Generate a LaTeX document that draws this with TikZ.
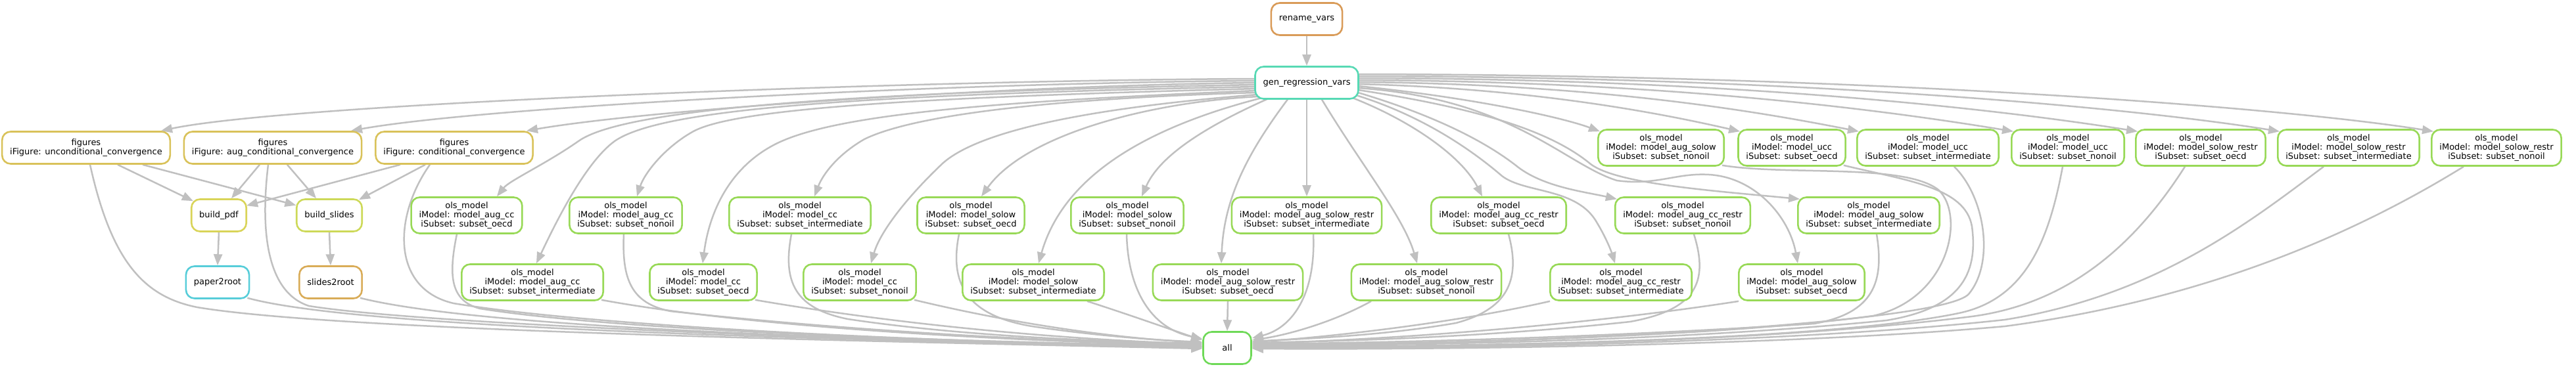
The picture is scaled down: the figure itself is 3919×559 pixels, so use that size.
\documentclass[tikz,border=0pt]{standalone}
\usepackage{fontspec}
\setmainfont{DejaVu Sans}
\usetikzlibrary{arrows.meta,calc}
\definecolor{cRename}{RGB}{217,155,88}
\definecolor{cGen}{RGB}{87,217,180}
\definecolor{cFig}{RGB}{217,194,90}
\definecolor{cPdf}{RGB}{217,212,88}
\definecolor{cSlides}{RGB}{205,217,88}
\definecolor{cPaper}{RGB}{87,205,217}
\definecolor{cStoR}{RGB}{217,172,88}
\definecolor{cOls}{RGB}{152,217,87}
\definecolor{cAll}{RGB}{110,217,87}
\definecolor{cEdge}{RGB}{192,192,192}
\pgfdeclarelayer{background}
\pgfsetlayers{background,main}
\newcommand\olst[2]{ols\_model\\iModel: model\_#1\\iSubset: subset\_#2}
\begin{document}
\begin{tikzpicture}[x=1pt,y=-1pt,
  box/.style={draw, line width=2.6pt, rounded corners=13pt, fill=white, align=center, text=black,
    font=\fontsize{13pt}{14.2pt}\selectfont, inner xsep=12pt, inner ysep=5pt,
    minimum height=49pt, minimum width=73pt},
  olsbox/.style={box, draw=cOls, minimum height=55pt},
  arr/.style={draw=cEdge, line width=2.5pt, -{Triangle[length=17pt,width=13pt]}}]
\useasboundingbox (0,0) rectangle (3919,559);
% ---------- nodes ----------
\node[box,draw=cRename] (rename) at (1988,29) {rename\_vars};
\node[box,draw=cGen] (gen) at (1988,126) {gen\_regression\_vars};
\node[box,draw=cFig] (figU) at (131,225) {figures\\iFigure: unconditional\_convergence};
\node[box,draw=cFig] (figA) at (415,225) {figures\\iFigure: aug\_conditional\_convergence};
\node[box,draw=cFig] (figC) at (691,225) {figures\\iFigure: conditional\_convergence};
\node[box,draw=cPdf] (bpdf) at (333,328) {build\_pdf};
\node[box,draw=cSlides] (bsl) at (501,328) {build\_slides};
\node[box,draw=cPaper] (p2r) at (331,430) {paper2root};
\node[box,draw=cStoR] (s2r) at (503,430) {slides2root};
\node[box,draw=cAll] (all) at (1867,530) {all};
% rank 2
\node[olsbox] (asN)  at (2527,225) {\olst{aug\_solow}{nonoil}};
\node[olsbox] (uccO) at (2726,225) {\olst{ucc}{oecd}};
\node[olsbox] (uccI) at (2933,225) {\olst{ucc}{intermediate}};
\node[olsbox] (uccN) at (3146,225) {\olst{ucc}{nonoil}};
\node[olsbox] (srO)  at (3348,225) {\olst{solow\_restr}{oecd}};
\node[olsbox] (srI)  at (3573,225) {\olst{solow\_restr}{intermediate}};
\node[olsbox] (srN)  at (3798,225) {\olst{solow\_restr}{nonoil}};
% rank 3
\node[olsbox] (accO)  at (710,328)  {\olst{aug\_cc}{oecd}};
\node[olsbox] (accN)  at (952,328)  {\olst{aug\_cc}{nonoil}};
\node[olsbox] (ccI)   at (1217,328) {\olst{cc}{intermediate}};
\node[olsbox] (soO)   at (1477,328) {\olst{solow}{oecd}};
\node[olsbox] (soN)   at (1715,328) {\olst{solow}{nonoil}};
\node[olsbox] (asrI)  at (1988,328) {\olst{aug\_solow\_restr}{intermediate}};
\node[olsbox] (accrO) at (2280,328) {\olst{aug\_cc\_restr}{oecd}};
\node[olsbox] (accrN) at (2560,328) {\olst{aug\_cc\_restr}{nonoil}};
\node[olsbox] (asI)   at (2843,328) {\olst{aug\_solow}{intermediate}};
% rank 4
\node[olsbox] (accI)  at (810,430)  {\olst{aug\_cc}{intermediate}};
\node[olsbox] (ccO)   at (1070,430) {\olst{cc}{oecd}};
\node[olsbox] (ccN)   at (1308,430) {\olst{cc}{nonoil}};
\node[olsbox] (soI)   at (1572,430) {\olst{solow}{intermediate}};
\node[olsbox] (asrO)  at (1868,430) {\olst{aug\_solow\_restr}{oecd}};
\node[olsbox] (asrN)  at (2170,430) {\olst{aug\_solow\_restr}{nonoil}};
\node[olsbox] (accrI) at (2466,430) {\olst{aug\_cc\_restr}{intermediate}};
\node[olsbox] (asO)   at (2741,430) {\olst{aug\_solow}{oecd}};
% ---------- edges ----------
\begin{pgfonlayer}{background}
\fill[white] (0,0) rectangle (3919,559);
\draw[arr] (rename.south) -- (gen.north);
% gen -> left
\draw[arr] ($(gen)+(-76,-6)$) .. controls (1400,122) and (445,157) .. ($(figU.north)+(114,0)$);
\draw[arr] ($(gen)+(-76,-3)$) .. controls (1450,126) and (740,162) .. ($(figA.north)+(119,0)$);
\draw[arr] ($(gen)+(-76,0)$) .. controls (1550,130) and (1000,165) .. ($(figC.north)+(110,0)$);
\draw[arr] ($(gen)+(-76,3)$) .. controls (1300,140) and (950,165) .. (880,215) .. controls (830,250) and (775,275) .. ($(accO.north)+(46,0)$);
\draw[arr] ($(gen)+(-76,6)$) .. controls (1250,145) and (1000,170) .. (935,215) .. controls (890,248) and (845,340) .. ($(accI.north)+(6,0)$);
\draw[arr] ($(gen)+(-76,9)$) .. controls (1400,148) and (1120,165) .. (1055,200) .. controls (1010,225) and (980,265) .. ($(accN.north)+(17,0)$);
\draw[arr] ($(gen)+(-76,12)$) .. controls (1500,155) and (1260,175) .. (1175,222) .. controls (1105,260) and (1078,330) .. ($(ccO.north)+(-1,0)$);
\draw[arr] ($(gen)+(-76,15)$) .. controls (1600,150) and (1390,175) .. (1315,212) .. controls (1275,235) and (1252,265) .. ($(ccI.north)+(22,0)$);
\draw[arr] ($(gen)+(-75,18)$) .. controls (1650,165) and (1490,200) .. (1435,248) .. controls (1385,295) and (1340,350) .. ($(ccN.north)+(17,0)$);
\draw[arr] ($(gen)+(-73,21)$) .. controls (1750,155) and (1560,205) .. ($(soO.north)+(16,0)$);
\draw[arr] ($(gen)+(-68,23)$) .. controls (1760,190) and (1620,260) .. ($(soI.north)+(8,0)$);
\draw[arr] ($(gen)+(-58,24)$) .. controls (1840,190) and (1765,235) .. ($(soN.north)+(22,0)$);
\draw[arr] ($(gen)+(-28,24)$) .. controls (1900,230) and (1862,300) .. ($(asrO.north)+(-10,0)$);
\draw[arr] (gen.south) -- (asrI.north);
% gen -> right
\draw[arr] ($(gen)+(22,24)$) .. controls (2070,250) and (2135,330) .. ($(asrN.north)+(-14,0)$);
\draw[arr] ($(gen)+(67,22)$) .. controls (2150,185) and (2225,240) .. ($(accrO.north)+(-25,0)$);
\draw[arr] ($(gen)+(75,19)$) .. controls (2160,175) and (2235,225) .. (2285,268) .. controls (2320,295) and (2400,285) .. (2430,340) .. controls (2445,365) and (2452,385) .. ($(accrI.north)+(-9,0)$);
\draw[arr] ($(gen)+(78,15)$) .. controls (2180,175) and (2260,215) .. (2310,255) .. controls (2350,285) and (2410,292) .. ($(accrN.north west)+(4,4)$);
\draw[arr] ($(gen)+(78,11)$) .. controls (2250,165) and (2360,200) .. (2420,250) .. controls (2460,280) and (2600,290) .. ($(asI.north west)+(4,4)$);
\draw[arr] ($(gen)+(78,8)$) .. controls (2300,150) and (2380,250) .. (2460,275) .. controls (2520,283) and (2550,263) .. (2600,266) .. controls (2670,270) and (2722,330) .. ($(asO.north)+(-6,0)$);
\draw[arr] ($(gen)+(78,5)$) .. controls (2250,150) and (2380,180) .. ($(asN.north west)+(4,4)$);
\draw[arr] ($(gen)+(78,2)$) .. controls (2350,135) and (2550,178) .. ($(uccO.north west)+(4,4)$);
\draw[arr] ($(gen)+(78,-1)$) .. controls (2450,128) and (2700,175) .. ($(uccI.north west)+(4,4)$);
\draw[arr] ($(gen)+(78,-4)$) .. controls (2550,124) and (2880,170) .. ($(uccN.north west)+(4,4)$);
\draw[arr] ($(gen)+(78,-7)$) .. controls (2650,120) and (3050,168) .. ($(srO.north west)+(4,4)$);
\draw[arr] ($(gen)+(78,-10)$) .. controls (2750,117) and (3250,165) .. ($(srI.north west)+(4,4)$);
\draw[arr] ($(gen)+(78,-13)$) .. controls (2800,114) and (3450,160) .. ($(srN.north west)+(4,4)$);
% figures -> builds
\draw[arr] ($(figU.south)+(48,0)$) -- ($(bpdf.north west)+(4,4)$);
\draw[arr] ($(figU.south)+(86,0)$) -- ($(bsl.north west)+(0.5,10.5)$);
\draw[arr] ($(figA.south)+(-20,0)$) -- ($(bpdf.north)+(19,0)$);
\draw[arr] ($(figA.south)+(22,0)$) -- ($(bsl.north)+(-20,0)$);
\draw[arr] ($(figC.south)+(-82,0)$) -- ($(bpdf.north east)+(-1,11)$);
\draw[arr] ($(figC.south)+(-44,0)$) -- ($(bsl.north east)+(-6,2)$);
\draw[arr] (bpdf.south) -- (p2r.north);
\draw[arr] (bsl.south) -- (s2r.north);
% -> all from left
\draw[arr] ($(figU.south)+(6,0)$) .. controls (170,400) and (220,452) .. (300,468) .. controls (520,505) and (1350,520) .. ($(all.west)+(0,1)$);
\draw[arr] ($(figA.south)+(-7,0)$) .. controls (396,350) and (405,445) .. (470,466) .. controls (650,495) and (1350,520) .. ($(all.west)+(0,0)$);
\draw[arr] ($(figC.south)+(-37,0)$) .. controls (598,330) and (595,440) .. (690,462) .. controls (900,497) and (1400,520) .. ($(all.west)+(0,-1)$);
\draw[arr] ($(p2r.south east)+(-4,-2)$) .. controls (560,505) and (1400,520) .. ($(all.west)+(0,-2)$);
\draw[arr] ($(s2r.south east)+(-4,-2)$) .. controls (750,505) and (1450,520) .. ($(all.west)+(0,-2)$);
\draw[arr] ($(accO.south)+(-15,0)$) .. controls (682,420) and (685,458) .. (730,470) .. controls (950,505) and (1450,520) .. ($(all.west)+(0,-3)$);
\draw[arr] ($(accI.south east)+(-4,-2)$) .. controls (1150,500) and (1550,520) .. ($(all.west)+(0,-4)$);
\draw[arr] ($(accN.south)+(-3,0)$) .. controls (946,425) and (960,462) .. (1020,474) .. controls (1300,505) and (1600,520) .. ($(all.west)+(0,-5)$);
\draw[arr] ($(ccO.south east)+(-4,-2)$) .. controls (1400,500) and (1650,518) .. ($(all.west)+(0,-6)$);
\draw[arr] ($(ccI.south)+(-13,0)$) .. controls (1190,430) and (1210,470) .. (1290,486) .. controls (1450,510) and (1650,520) .. ($(all.west)+(0,-7)$);
\draw[arr] ($(ccN.south east)+(-4,-2)$) .. controls (1550,495) and (1700,515) .. ($(all.west)+(0,-8)$);
\draw[arr] ($(soO.south)+(-18,0)$) .. controls (1442,440) and (1480,482) .. (1570,497) .. controls (1670,512) and (1760,518) .. ($(all.west)+(0,-9)$);
\draw[arr] ($(soI.south)+(82,0)$) .. controls (1720,480) and (1790,505) .. ($(all.west)+(0,-12)$);
\draw[arr] ($(soN.south)+(-1,0)$) .. controls (1716,440) and (1750,500) .. ($(all.west)+(0,-14)$);
\draw[arr] (asrO.south) -- (all.north);
% -> all from right
\draw[arr] ($(asrI.south)+(10,0)$) .. controls (2002,450) and (1965,500) .. ($(all.east)+(0,-15)$);
\draw[arr] ($(asrN.south)+(-84,0)$) .. controls (2030,490) and (1960,510) .. ($(all.east)+(0,-12)$);
\draw[arr] ($(accrO.south)+(15,0)$) .. controls (2315,430) and (2290,472) .. (2215,492) .. controls (2100,512) and (1980,516) .. ($(all.east)+(0,-10)$);
\draw[arr] ($(accrI.south)+(-108,0)$) .. controls (2200,495) and (2000,515) .. ($(all.east)+(0,-9)$);
\draw[arr] ($(accrN.south)+(17,0)$) .. controls (2600,430) and (2580,472) .. (2480,490) .. controls (2250,515) and (2020,520) .. ($(all.east)+(0,-8)$);
\draw[arr] ($(asO.south)+(-96,0)$) .. controls (2400,497) and (2100,518) .. ($(all.east)+(0,-7)$);
\draw[arr] ($(asI.south)+(12,0)$) .. controls (2867,430) and (2850,477) .. (2760,493) .. controls (2400,516) and (2100,522) .. ($(all.east)+(0,-6)$);
\draw[arr] ($(asN.south east)+(-4,-2)$) .. controls (2720,268) and (2900,248) .. (2950,290) .. controls (2990,330) and (2965,455) .. (2850,481) .. controls (2600,515) and (2150,524) .. ($(all.east)+(0,-5)$);
\draw[arr] ($(uccO.south east)+(-4,-2)$) .. controls (2900,275) and (2990,285) .. (3000,345) .. controls (3010,420) and (2980,470) .. (2870,488) .. controls (2550,520) and (2150,526) .. ($(all.east)+(0,-4)$);
\draw[arr] ($(uccI.south)+(40,0)$) .. controls (3020,300) and (3035,400) .. (2995,448) .. controls (2950,495) and (2300,525) .. ($(all.east)+(0,-3)$);
\draw[arr] ($(uccN.south)+(-8,0)$) .. controls (3118,360) and (3085,455) .. (2980,477) .. controls (2770,521) and (2200,528) .. ($(all.east)+(0,-2)$);
\draw[arr] ($(srO.south)+(-24,0)$) .. controls (3250,370) and (3150,462) .. (3000,482) .. controls (2700,520) and (2250,530) .. ($(all.east)+(0,-1)$);
\draw[arr] ($(srI.south)+(-38,0)$) .. controls (3420,340) and (3280,450) .. (3050,487) .. controls (2750,520) and (2250,532) .. ($(all.east)+(0,0)$);
\draw[arr] ($(srN.south)+(-50,0)$) .. controls (3560,370) and (3330,460) .. (3050,497) .. controls (2750,524) and (2250,533) .. ($(all.east)+(0,1)$);
\end{pgfonlayer}
\end{tikzpicture}
\end{document}
